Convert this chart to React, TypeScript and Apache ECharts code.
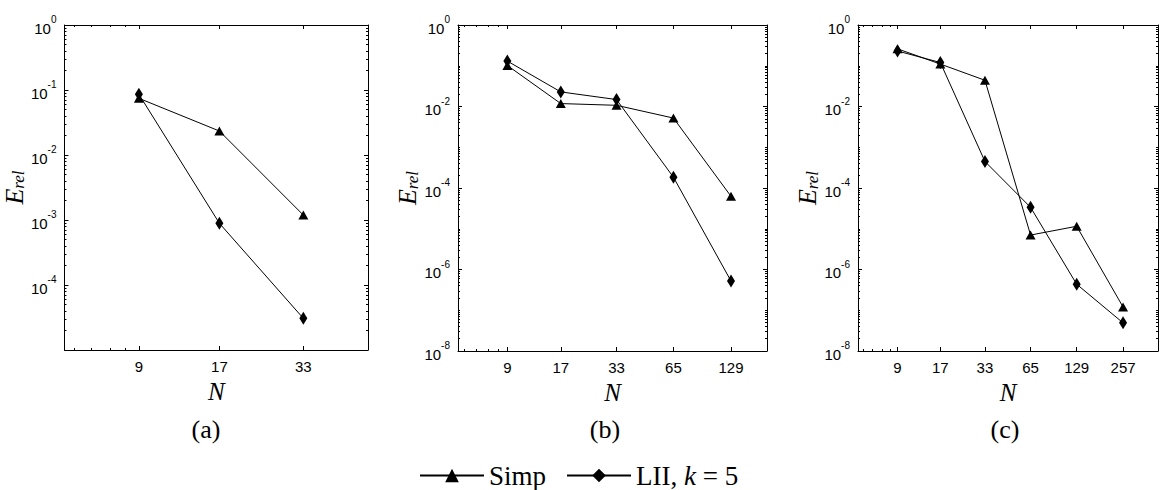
import React, { useEffect, useRef } from 'react';
import * as echarts from 'echarts';

// ---------- data ----------
const N_A = [9, 17, 33];
const SIMP_A = [0.0745, 0.0234, 0.00119];
const LII_A = [0.086, 0.00089, 3.07e-5];

const N_B = [9, 17, 33, 65, 129];
const SIMP_B = [0.1016, 0.0118, 0.0107, 0.0052, 6.25e-5];
const LII_B = [0.13, 0.0228, 0.0148, 1.84e-4, 5.2e-7];

const N_C = [9, 17, 33, 65, 129, 257];
const SIMP_C = [0.26, 0.11, 0.044, 7.0e-6, 1.15e-5, 1.2e-7];
const LII_C = [0.23, 0.12, 4.47e-4, 3.35e-5, 4.35e-7, 4.9e-8];

const Y_LABELS_A = [1, 1e-1, 1e-2, 1e-3, 1e-4];
const Y_LABELS_BC = [1, 1e-2, 1e-4, 1e-6, 1e-8];
const X_MINOR = [5.4, 6.2, 7.2, 8.1];
const CAPTIONS = ['(a)', '(b)', '(c)'];
const SERIES_NAMES = ['Simp', 'LII, k = 5'];

// ---------- layout ----------
const SANS = 'Liberation Sans, Arial, sans-serif';
const SERIF = 'Liberation Serif, Times New Roman, serif';

const panels = [
  { n: N_A, simp: SIMP_A, lii: LII_A, xMin: 5, xMax: 55, yMin: 1e-5, yMax: 1, yLabels: Y_LABELS_A,
    grid: { left: 59, top: 25, width: 309, height: 325 }, capX: 206 },
  { n: N_B, simp: SIMP_B, lii: LII_B, xMin: 5, xMax: 198, yMin: 1e-8, yMax: 1, yLabels: Y_LABELS_BC,
    grid: { left: 458, top: 25, width: 309, height: 326 }, capX: 605 },
  { n: N_C, simp: SIMP_C, lii: LII_C, xMin: 5, xMax: 432, yMin: 1e-8, yMax: 1, yLabels: Y_LABELS_BC,
    grid: { left: 858, top: 25, width: 300, height: 326 }, capX: 1005 },
];

function yMinorTicks(p: any): number[] {
  const out: number[] = [];
  const e0 = Math.round(Math.log10(p.yMin));
  const e1 = Math.round(Math.log10(p.yMax));
  for (let e = e0; e < e1; e++) {
    const dec = Math.pow(10, e);
    if (e > e0 && !p.yLabels.some((v: number) => Math.abs(Math.log10(v) - e) < 1e-6)) out.push(dec);
    for (let m = 2; m <= 9; m++) out.push(m * dec);
  }
  return out;
}

const black = { color: '#000', width: 1 };

function buildOption() {
  const grids: any[] = [];
  const xAxes: any[] = [];
  const yAxes: any[] = [];
  const series: any[] = [];

  panels.forEach((p, gi) => {
    grids.push({ ...p.grid, containLabel: false });
    const xb = { type: 'log', gridIndex: gi, min: p.xMin, max: p.xMax, splitLine: { show: false }, silent: true };
    xAxes.push(
      {
        ...xb, position: 'bottom',
        axisLine: { show: true, onZero: false, lineStyle: black },
        axisTick: { show: true, inside: true, length: 4, customValues: p.n, lineStyle: black },
        axisLabel: { show: true, customValues: p.n, formatter: (v: number) => String(Math.round(v)),
          margin: 9, color: '#000', fontFamily: SANS, fontSize: 15 },
        name: 'N', nameLocation: 'middle', nameGap: 20,
        nameTextStyle: { fontFamily: SERIF, fontStyle: 'italic', fontSize: 25, color: '#000' },
      },
      { ...xb, position: 'bottom', axisLine: { show: false },
        axisTick: { show: true, inside: true, length: 2, customValues: X_MINOR, lineStyle: black },
        axisLabel: { show: false } },
      { ...xb, position: 'top', axisLine: { show: true, onZero: false, lineStyle: black },
        axisTick: { show: true, inside: true, length: 4, customValues: p.n, lineStyle: black },
        axisLabel: { show: false } },
      { ...xb, position: 'top', axisLine: { show: false },
        axisTick: { show: true, inside: true, length: 2, customValues: X_MINOR, lineStyle: black },
        axisLabel: { show: false } },
    );
    const yb = { type: 'log', gridIndex: gi, min: p.yMin, max: p.yMax, splitLine: { show: false }, silent: true };
    const minors = yMinorTicks(p);
    yAxes.push(
      {
        ...yb, position: 'left',
        axisLine: { show: true, onZero: false, lineStyle: black },
        axisTick: { show: true, inside: true, length: 4, customValues: p.yLabels, lineStyle: black },
        axisLabel: {
          show: true, customValues: p.yLabels, margin: 8,
          formatter: (v: number) => `{b|10}{s|${Math.round(Math.log10(v))}}`,
          rich: {
            b: { fontFamily: SANS, fontSize: 15, color: '#000', lineHeight: 21, verticalAlign: 'bottom' },
            s: { fontFamily: SANS, fontSize: 10, color: '#000', lineHeight: 10, verticalAlign: 'top' },
          },
        },
        name: '{e|E}{r|rel}', nameLocation: 'middle', nameRotate: 90, nameGap: 30,
        nameTextStyle: {
          rich: {
            e: { fontFamily: SERIF, fontStyle: 'italic', fontSize: 26, color: '#000', lineHeight: 26, verticalAlign: 'top' },
            r: { fontFamily: SERIF, fontStyle: 'italic', fontSize: 17, color: '#000', lineHeight: 17, verticalAlign: 'bottom' },
          },
        },
      },
      { ...yb, position: 'left', axisLine: { show: false },
        axisTick: { show: true, inside: true, length: 2, customValues: minors, lineStyle: black },
        axisLabel: { show: false } },
      { ...yb, position: 'right', axisLine: { show: true, onZero: false, lineStyle: black },
        axisTick: { show: true, inside: true, length: 4, customValues: p.yLabels, lineStyle: black },
        axisLabel: { show: false } },
      { ...yb, position: 'right', axisLine: { show: false },
        axisTick: { show: true, inside: true, length: 2, customValues: minors, lineStyle: black },
        axisLabel: { show: false } },
    );
    const common = {
      type: 'line', xAxisIndex: gi * 4, yAxisIndex: gi * 4,
      lineStyle: { color: '#000', width: 1 }, itemStyle: { color: '#000' },
      showSymbol: true, silent: true,
    };
    series.push(
      { ...common, name: SERIES_NAMES[0], symbol: 'triangle', symbolSize: [10, 9],
        data: p.n.map((x, i) => [x, p.simp[i]]) },
      { ...common, name: SERIES_NAMES[1], symbol: 'diamond', symbolSize: [8, 13],
        data: p.n.map((x, i) => [x, p.lii[i]]) },
    );
  });

  return {
    animation: false,
    backgroundColor: '#fff',
    grid: grids,
    xAxis: xAxes,
    yAxis: yAxes,
    series,
    legend: {
      left: 414, top: 457,
      data: SERIES_NAMES,
      itemWidth: 64, itemHeight: 17, itemGap: 20,
      formatter: (name: string) => name === SERIES_NAMES[0] ? '{r|Simp}' : '{r|LII, }{i|k}{r| = 5}',
      textStyle: {
        rich: {
          r: { fontFamily: SERIF, fontSize: 27, color: '#000', lineHeight: 30 },
          i: { fontFamily: SERIF, fontStyle: 'italic', fontSize: 27, color: '#000', lineHeight: 30 },
        },
      },
    },
    graphic: panels.map((p, i) => ({
      type: 'text', x: p.capX, y: 429, silent: true,
      style: { text: CAPTIONS[i], fontFamily: SERIF, fontSize: 26, fill: '#000', align: 'center', verticalAlign: 'middle' },
    })),
  };
}

export default function App() {
  const ref = useRef<HTMLDivElement>(null);
  useEffect(() => {
    if (!ref.current) return;
    const chart = echarts.init(ref.current, undefined, { renderer: 'svg' });
    chart.setOption(buildOption() as any);
    return () => chart.dispose();
  }, []);
  return (
    <div
      ref={ref}
      style={{ position: 'fixed', left: 0, top: 0, width: 1160, height: 490, background: '#fff' }}
    />
  );
}
